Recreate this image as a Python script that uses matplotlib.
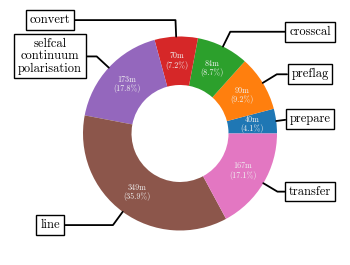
import numpy as np
import matplotlib
matplotlib.use("Agg")
import matplotlib.pyplot as plt

plt.rcParams['font.family'] = ['cmr10', 'DejaVu Serif']
plt.rcParams['mathtext.fontset'] = 'cm'
plt.rcParams['axes.unicode_minus'] = False

steps = ["prepare", "preflag", "crosscal", "convert",
         "selfcal\ncontinuum\npolarisation", "line", "transfer"]
minutes = [40, 90, 84.4, 70, 173, 349, 166.6]
colors = ["#1f77b4", "#ff7f0e", "#2ca02c", "#d62728",
          "#9467bd", "#8c564b", "#e377c2"]

fig = plt.figure(figsize=(3.5, 2.65), dpi=100)
ax = fig.add_axes([0, 0, 1, 1])

total = sum(minutes)

def fmt(pct):
    val = pct * total / 100.0
    return "{:.0f}m\n({:.1f}%)".format(val, pct)

wedges, texts = ax.pie(minutes, colors=colors, startangle=0, counterclock=True,
                       wedgeprops=dict(width=0.5, linewidth=0), radius=1.0)[:2]

for w, v in zip(wedges, minutes):
    ang = np.deg2rad((w.theta2 + w.theta1) / 2.0)
    pct = 100.0 * v / total
    ax.text(0.75 * np.cos(ang), 0.75 * np.sin(ang), fmt(pct),
            ha='center', va='center', color='#f0f0f0', fontsize=5.8,
            linespacing=1.05)

bbox_props = dict(boxstyle="square,pad=0.3", fc="w", ec="k", lw=1.0)
for w, name in zip(wedges, steps):
    angd = (w.theta2 + w.theta1) / 2.0
    ang = np.deg2rad(angd)
    x, y = np.cos(ang), np.sin(ang)
    conn = "angle,angleA=0,angleB={}".format(angd)
    ax.annotate(name, xy=(x, y), xytext=(1.34 * np.sign(x), 1.17 * y),
                ha='center', va='center', fontsize=9, linespacing=1.0,
                bbox=bbox_props,
                arrowprops=dict(arrowstyle="-", color='k', lw=1.3,
                                connectionstyle=conn, shrinkA=0, shrinkB=0))

cx, cy, s = 180.0, 133.5, 97.0
ax.set_xlim((0 - cx) / s, (350 - cx) / s)
ax.set_ylim((cy - 265) / s, cy / s)
ax.set_aspect('auto')
ax.axis('off')

fig.savefig("out.png", dpi=100)
